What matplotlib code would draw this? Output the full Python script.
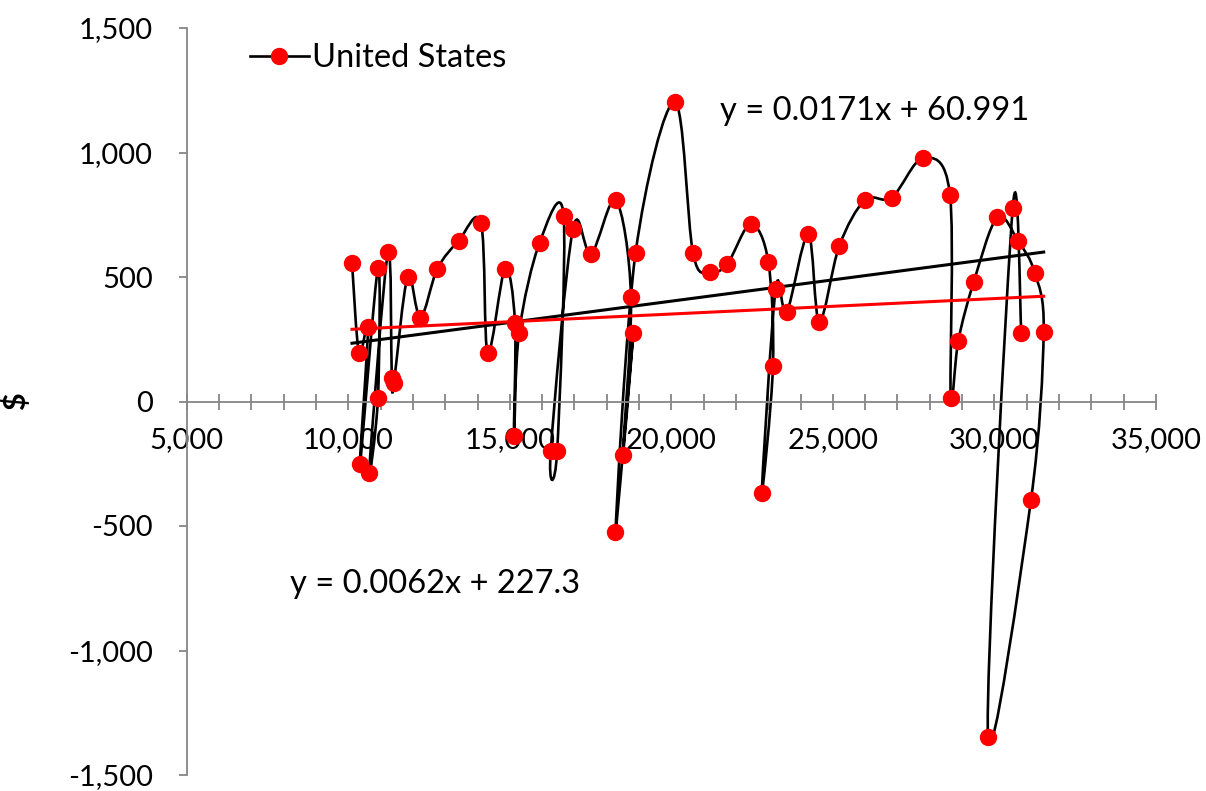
import matplotlib
matplotlib.use("Agg")
import matplotlib.pyplot as plt
import numpy as np
from matplotlib.path import Path
from matplotlib.patches import PathPatch
from matplotlib.ticker import FuncFormatter, MultipleLocator
from matplotlib.lines import Line2D

# ---- data ----
x_vals = [10115, 10330, 10610, 10362, 10919, 10919, 10641, 11228, 11347, 11409,
          11838, 12232, 12755, 13415, 14108, 14316, 14851, 15161, 15130, 15285,
          15923, 16666, 16466, 16266, 16953, 17517, 18282, 18752, 18498, 18824,
          18272, 18895, 20100, 20672, 21189, 21734, 22458, 23003, 23148, 22799,
          23232, 23573, 24241, 24582, 25201, 25997, 26823, 27802, 28628, 28650,
          28885, 29359, 30093, 30743, 31250, 31529, 31136, 29805, 30570, 30836]
y_vals = [557, 196, 300, -253, 537, 15, -286, 600, 95, 75,
          500, 337, 532, 645, 716, 194, 533, 317, -140, 275,
          638, 746, -200, -200, 692, 593, 808, 419, -214, 277,
          -526, 598, 1203, 596, 520, 553, 712, 561, 143, -368,
          453, 359, 672, 321, 625, 809, 819, 978, 830, 14,
          244, 478, 739, 643, 518, 281, -395, -1346, 777, 275]
series_name = "United States"
trend_black = [0.0171, 60.991]
trend_red = [0.0062, 227.3]
trend_black_label = "y = 0.0171x + 60.991"
trend_red_label = "y = 0.0062x + 227.3"
y_label = "$"

plt.rcParams['font.family'] = ['Lato', 'DejaVu Sans']

W, H = 1206, 791
fig = plt.figure(figsize=(W / 100, H / 100), dpi=100)
ax = fig.add_axes([186.8 / W, 16 / H, 969 / W, 747 / H])

# ---- smoothed line (Excel-style Catmull-Rom Bezier) ----
P = np.column_stack([x_vals, y_vals]).astype(float)
n = len(P)
verts = [tuple(P[0])]
codes = [Path.MOVETO]
for i in range(n - 1):
    p0 = P[i - 1] if i > 0 else P[i]
    p1 = P[i]
    p2 = P[i + 1]
    p3 = P[i + 2] if i + 2 < n else P[i + 1]
    c1 = p1 + (p2 - p0) / 6.0
    c2 = p2 - (p3 - p1) / 6.0
    verts += [tuple(c1), tuple(c2), tuple(p2)]
    codes += [Path.CURVE4, Path.CURVE4, Path.CURVE4]
ax.add_patch(PathPatch(Path(verts, codes), facecolor='none', edgecolor='black',
                       lw=1.9, zorder=2))

# ---- trendlines ----
xt = np.array([min(x_vals), max(x_vals)], dtype=float)
ax.plot(xt, trend_black[0] * xt + trend_black[1], color='black', lw=2.2, zorder=3)
ax.plot(xt, trend_red[0] * xt + trend_red[1], color='#FF0000', lw=2.2, zorder=3)

# ---- markers ----
ax.plot(x_vals, y_vals, linestyle='none', marker='o', markersize=11.5,
        markerfacecolor='#FF0000', markeredgecolor='#FF0000', zorder=4)

# ---- axes ----
ax.set_xlim(5000, 35000)
ax.set_ylim(-1500, 1500)
ax.spines['top'].set_visible(False)
ax.spines['right'].set_visible(False)
ax.spines['bottom'].set_position(('data', 0))
for s in ('left', 'bottom'):
    ax.spines[s].set_color('#868686')
    ax.spines[s].set_linewidth(1.3)

fmt = FuncFormatter(lambda v, p: '{:,.0f}'.format(v))
ax.xaxis.set_major_locator(MultipleLocator(5000))
ax.xaxis.set_minor_locator(MultipleLocator(1000))
ax.yaxis.set_major_locator(MultipleLocator(500))
ax.xaxis.set_major_formatter(fmt)
ax.yaxis.set_major_formatter(fmt)
ax.tick_params(axis='x', which='both', direction='inout', length=11.5, width=1.3,
               color='#868686', labelsize=21, pad=13)
ax.tick_params(axis='y', which='major', direction='out', length=5.5, width=1.3,
               color='#868686', labelsize=21, pad=19)
ax.set_ylabel(y_label, fontsize=22, fontweight='bold')
ax.yaxis.set_label_coords(-0.162, 0.5)

# ---- legend ----
h = Line2D([], [], color='black', lw=1.9, marker='o', markersize=11.5,
           markerfacecolor='#FF0000', markeredgecolor='#FF0000')
fig.legend([h], [series_name], loc='center left',
           bbox_to_anchor=(250 / W, 1 - 58 / H), frameon=False, fontsize=23.5,
           handlelength=1.8, handletextpad=0.1, borderpad=0, borderaxespad=0)

# ---- trendline equations ----
fig.text(720 / W, 1 - 111 / H, trend_black_label, fontsize=23.5, va='center', ha='left')
fig.text(290 / W, 1 - 584 / H, trend_red_label, fontsize=23.5, va='center', ha='left')

fig.savefig('out.png', dpi=100)
